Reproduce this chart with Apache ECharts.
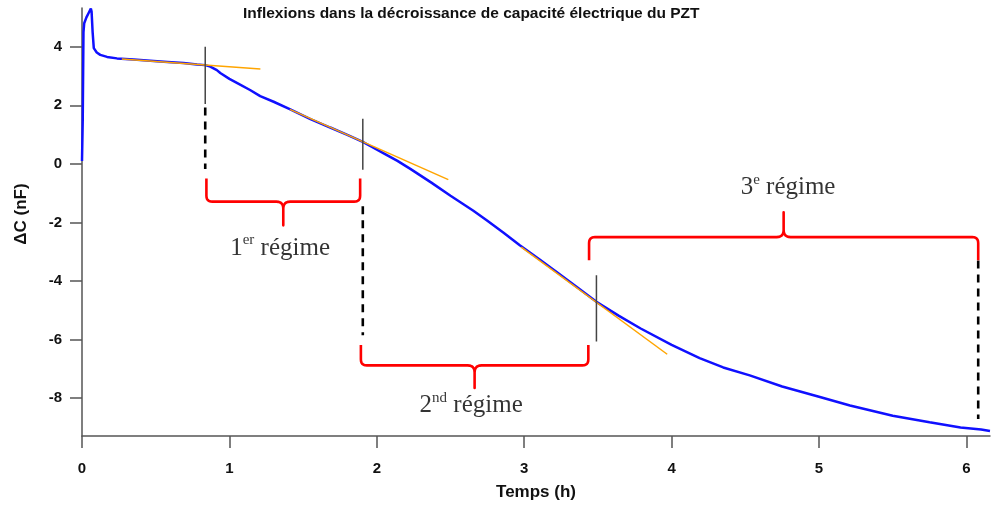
<!DOCTYPE html>
<html>
<head>
<meta charset="utf-8">
<script src="https://cdn.jsdelivr.net/npm/echarts@6/dist/echarts.min.js"></script>
<style>html,body{margin:0;padding:0;background:#fff}#c{width:991px;height:506px}</style>
</head>
<body>
<div id="c"></div>
<script>
// ---- data ----
const titleText = 'Inflexions dans la décroissance de capacité électrique du PZT';
const xTicks = [0, 1, 2, 3, 4, 5, 6];
const yTicks = [-8, -6, -4, -2, 0, 2, 4];
// measured capacitance change (time h, ΔC nF)
const curve = [
  [0.0, 0.1], [0.005, 1.5], [0.01, 4.5], [0.015, 4.8], [0.03, 5.0], [0.045, 5.15], [0.06, 5.3],
  [0.065, 5.2], [0.072, 4.5], [0.08, 3.95], [0.1, 3.8], [0.124, 3.72], [0.17, 3.65], [0.237, 3.6],
  [0.35, 3.56], [0.463, 3.52], [0.58, 3.48], [0.689, 3.44], [0.78, 3.39], [0.836, 3.37], [0.87, 3.32],
  [0.915, 3.2], [0.938, 3.1], [1.0, 2.9], [1.06, 2.74], [1.14, 2.52], [1.209, 2.31], [1.3, 2.12],
  [1.413, 1.86], [1.55, 1.53], [1.684, 1.24], [1.8, 0.99], [1.905, 0.75], [1.955, 0.61], [2.05, 0.35],
  [2.14, 0.1], [2.23, -0.18], [2.37, -0.64], [2.5, -1.09], [2.655, -1.6], [2.75, -1.94], [2.86, -2.35],
  [2.97, -2.78], [3.1, -3.25], [3.22, -3.69], [3.35, -4.18], [3.49, -4.71], [3.64, -5.18], [3.79, -5.62],
  [4.0, -6.18], [4.19, -6.63], [4.35, -6.95], [4.53, -7.22], [4.75, -7.6], [5.0, -7.95], [5.21, -8.25],
  [5.5, -8.6], [5.75, -8.82], [5.96, -9.0], [6.1, -9.07], [6.16, -9.12]
];
// tangent lines (orange)
const tangent1 = [[0.27, 3.58], [1.21, 3.24]];
const tangent2 = [[1.41, 1.86], [2.485, -0.54]];
const tangent3 = [[2.98, -2.84], [3.97, -6.5]];
// inflexion markers (solid gray)
const marker1 = [[0.836, 4.0], [0.836, 2.04]];
const marker2 = [[1.905, 1.54], [1.905, -0.2]];
const marker3 = [[3.49, -3.8], [3.49, -6.06]];
// dashed guides
const guide1 = [[0.836, 1.92], [0.836, -0.18]];
const guide2 = [[1.905, -1.45], [1.905, -5.85]];
const guide3 = [[6.08, -3.3], [6.08, -8.71]];
// braces: [x start, x end, y of ends, y of bar, y of tip]
const brace1 = [0.844, 1.887, -0.5, -1.29, -2.1];
const brace2 = [1.892, 3.435, -6.18, -6.88, -7.65];
const brace3 = [3.44, 6.08, -3.29, -2.5, -1.65];
// regime labels: [x, y, number, superscript]
const label1 = [1.344, -2.83, '1', 'er'];
const label2 = [2.64, -8.2, '2', 'nd'];
const label3 = [4.79, -0.76, '3', 'e'];

// ---- chart ----
const chart = echarts.init(document.getElementById('c'));
const sans = 'Liberation Sans, Arial, sans-serif';
const serif = 'Liberation Serif, Times New Roman, serif';

function seg(data, color, width, dash) {
  return {
    type: 'line', data: data, showSymbol: false, silent: true, animation: false,
    lineStyle: { color: color, width: width, type: dash ? [8, 6] : 'solid' }, z: 3
  };
}
function quad(p0, c, p1, n) {
  const out = [];
  for (let i = 1; i <= n; i++) {
    const t = i / n;
    out.push([(1 - t) * (1 - t) * p0[0] + 2 * (1 - t) * t * c[0] + t * t * p1[0],
              (1 - t) * (1 - t) * p0[1] + 2 * (1 - t) * t * c[1] + t * t * p1[1]]);
  }
  return out;
}
const braces = [brace1, brace2, brace3];
function renderBrace(params, api) {
  const b = braces[params.dataIndex];
  const xm = (b[0] + b[1]) / 2;
  const L = api.coord([b[0], b[2]]);
  const R = api.coord([b[1], b[2]]);
  const yb = api.coord([b[0], b[3]])[1];
  const yt = api.coord([xm, b[4]])[1];
  const X0 = L[0], X1 = R[0], YE = L[1], XM = api.coord([xm, b[3]])[0];
  const s = Math.sign(yb - YE);
  const r = 6, r2 = 7;
  let pts = [[X0, YE], [X0, yb - s * r]];
  pts = pts.concat(quad([X0, yb - s * r], [X0, yb], [X0 + r, yb], 6));
  pts.push([XM - r2, yb]);
  pts = pts.concat(quad([XM - r2, yb], [XM, yb], [XM, yb + s * r2], 6));
  pts.push([XM, yt]);
  pts.push([XM, yb + s * r2]);
  pts = pts.concat(quad([XM, yb + s * r2], [XM, yb], [XM + r2, yb], 6));
  pts.push([X1 - r, yb]);
  pts = pts.concat(quad([X1 - r, yb], [X1, yb], [X1, yb - s * r], 6));
  pts.push([X1, YE]);
  return { type: 'polyline', shape: { points: pts }, style: { stroke: '#ff0000', lineWidth: 2.6, fill: null, lineJoin: 'round' } };
}
function regimeLabel(l) {
  return {
    type: 'scatter', data: [[l[0], l[1]]], symbolSize: 0, silent: true, animation: false, z: 5,
    label: {
      show: true, position: 'inside',
      formatter: '{n|' + l[2] + '}{s|' + l[3] + '}{n| régime}',
      rich: {
        n: { fontFamily: serif, fontSize: 25, color: '#000', verticalAlign: 'bottom', lineHeight: 28 },
        s: { fontFamily: serif, fontSize: 15, color: '#000', verticalAlign: 'top', lineHeight: 28, padding: [0, 0, 10, 0] }
      }
    }
  };
}

chart.setOption({
  animation: false,
  backgroundColor: '#fff',
  title: {
    text: titleText, left: 243, top: 6, padding: 0,
    textStyle: { fontFamily: sans, fontSize: 15.5, fontWeight: 'bold', color: '#111' }
  },
  grid: { left: 82, right: 1, top: 8, bottom: 68, containLabel: false },
  xAxis: {
    type: 'value', min: 0, max: 6.16,
    name: 'Temps (h)', nameLocation: 'middle', nameGap: 48,
    nameTextStyle: { fontFamily: sans, fontSize: 17, fontWeight: 'bold', color: '#111' },
    splitLine: { show: false },
    axisLine: { onZero: false, lineStyle: { color: '#555', width: 1.5 } },
    axisTick: { length: 12, customValues: xTicks, lineStyle: { color: '#555', width: 1.5 } },
    axisLabel: { customValues: xTicks, margin: 25, fontFamily: sans, fontSize: 15, fontWeight: 'bold', color: '#111' }
  },
  yAxis: {
    type: 'value', min: -9.29, max: 5.32,
    name: 'ΔC (nF)', nameLocation: 'middle', nameGap: 52, nameRotate: 90,
    nameTextStyle: { fontFamily: sans, fontSize: 17, fontWeight: 'bold', color: '#111', padding: [0, 0, 0, 16] },
    splitLine: { show: false },
    axisLine: { onZero: false, lineStyle: { color: '#555', width: 1.5 } },
    axisTick: { length: 12, customValues: yTicks, lineStyle: { color: '#555', width: 1.5 } },
    axisLabel: { customValues: yTicks, margin: 20, fontFamily: sans, fontSize: 15, fontWeight: 'bold', color: '#111' }
  },
  series: [
    {
      type: 'line', data: curve, showSymbol: false, silent: true, animation: false, z: 2,
      lineStyle: { color: '#1010ff', width: 2.5 }
    },
    seg(tangent1, '#ffa500', 1.5),
    seg(tangent2, '#ffa500', 1.5),
    seg(tangent3, '#ffa500', 1.5),
    seg(marker1, '#444', 1.5),
    seg(marker2, '#444', 1.5),
    seg(marker3, '#444', 1.5),
    seg(guide1, '#000', 2.6, true),
    seg(guide2, '#000', 2.6, true),
    seg(guide3, '#000', 2.6, true),
    {
      type: 'custom', renderItem: renderBrace, silent: true, animation: false, z: 4,
      data: braces.map(function (b) { return [b[0], b[2]]; })
    },
    regimeLabel(label1),
    regimeLabel(label2),
    regimeLabel(label3)
  ]
});
</script>
</body>
</html>
